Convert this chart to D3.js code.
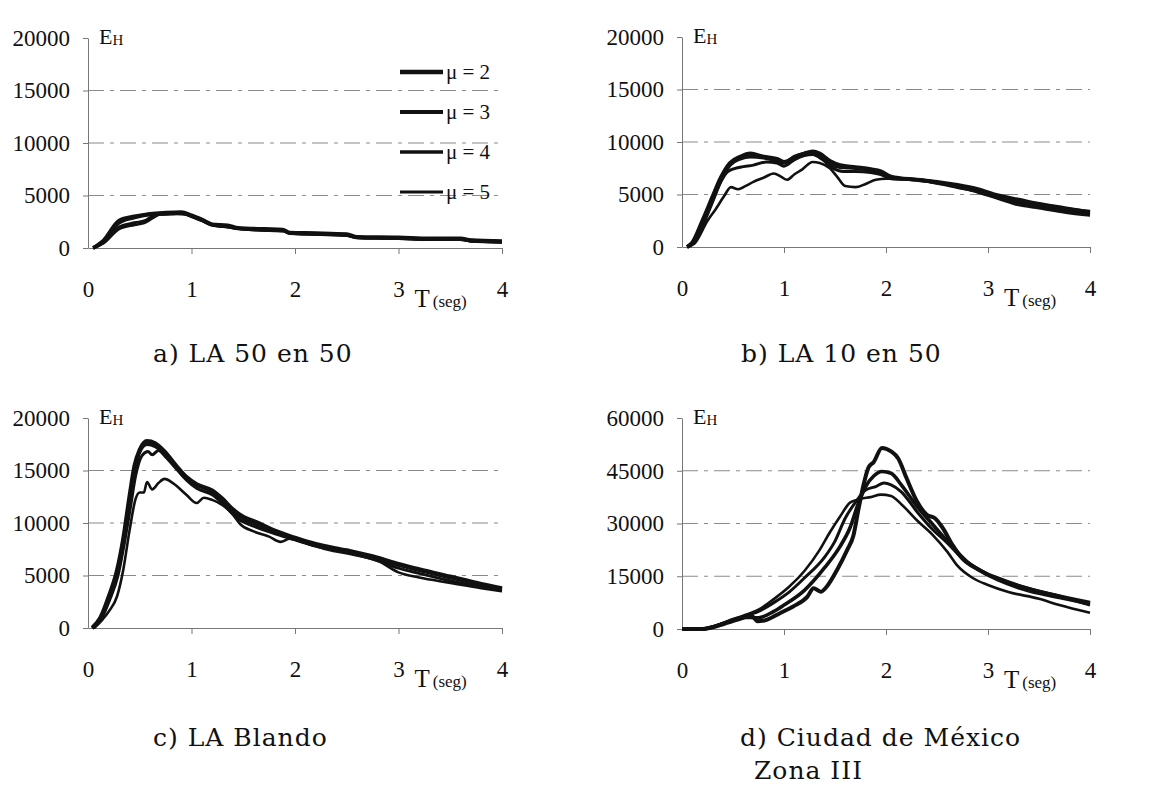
<!DOCTYPE html>
<html>
<head>
<meta charset="utf-8">
<script src="https://cdn.jsdelivr.net/npm/d3@7"></script>
<style>
  body { margin: 0; background: #fff; }
  svg { display: block; }
</style>
</head>
<body>
<svg id="chart"></svg>
<script>
// ---- data: [T (seg), E_H] ----
const periods = [0, 1, 2, 3, 4];
const legendLabels = ["μ = 2", "μ = 3", "μ = 4", "μ = 5"];
const yTicksSmall = [0, 5000, 10000, 15000, 20000];
const yTicksBig = [0, 15000, 30000, 45000, 60000];

const a_mu2 = [[0.05,0],[0.15,700],[0.3,2600],[0.45,3000],[0.6,3250],[0.75,3350],[0.9,3400],[1.0,3100],[1.1,2700],[1.2,2250],[1.35,2150],[1.45,1900],[1.7,1800],[1.88,1750],[1.95,1450],[2.2,1400],[2.5,1300],[2.6,1050],[3.0,1000],[3.3,900],[3.6,900],[3.7,750],[4.0,650]];
const a_mu3 = [[0.05,0],[0.15,600],[0.3,2400],[0.45,2900],[0.6,3200],[0.75,3300],[0.9,3350],[1.0,3050],[1.1,2650],[1.2,2200],[1.35,2050],[1.45,1850],[1.7,1750],[1.88,1700],[1.95,1400],[2.2,1350],[2.5,1250],[2.6,1000],[3.0,950],[3.3,850],[3.6,850],[3.7,700],[4.0,600]];
const a_mu4 = [[0.05,0],[0.15,500],[0.3,2000],[0.45,2400],[0.55,2600],[0.65,3150],[0.8,3250],[0.9,3300],[1.0,3000],[1.1,2600],[1.2,2200],[1.35,2000],[1.5,1800],[1.7,1700],[1.88,1650],[1.95,1400],[2.2,1300],[2.5,1200],[2.6,1000],[3.0,900],[3.3,800],[3.6,850],[3.7,650],[4.0,550]];
const a_mu5 = [[0.05,0],[0.15,450],[0.3,1800],[0.45,2200],[0.55,2400],[0.7,3200],[0.85,3250],[0.95,3200],[1.05,2850],[1.15,2450],[1.25,2100],[1.4,1950],[1.55,1750],[1.75,1650],[1.9,1600],[2.0,1350],[2.3,1300],[2.5,1200],[2.6,950],[3.0,900],[3.3,800],[3.6,800],[3.7,650],[4.0,550]];

const b_mu2 = [[0.05,0],[0.1,400],[0.2,2500],[0.3,4800],[0.38,6600],[0.47,8000],[0.57,8600],[0.67,8900],[0.8,8600],[0.93,8400],[1.0,8100],[1.1,8500],[1.2,8900],[1.28,9100],[1.35,8900],[1.45,8200],[1.55,7800],[1.7,7600],[1.85,7400],[1.95,7200],[2.05,6700],[2.3,6400],[2.5,6200],[2.7,5900],[2.9,5500],[3.1,4900],[3.3,4500],[3.5,4100],[3.75,3700],[4.0,3300]];
const b_mu3 = [[0.05,0],[0.1,350],[0.2,2300],[0.3,4500],[0.38,6300],[0.47,7800],[0.57,8400],[0.67,8600],[0.8,8500],[0.93,8200],[1.0,8000],[1.1,8600],[1.2,8900],[1.28,9000],[1.35,8700],[1.45,7900],[1.55,7600],[1.7,7500],[1.85,7300],[1.95,7000],[2.05,6600],[2.3,6400],[2.5,6100],[2.7,5700],[2.9,5300],[3.1,4700],[3.3,4200],[3.5,3900],[3.75,3500],[4.0,3100]];
const b_mu4 = [[0.05,0],[0.1,300],[0.2,2000],[0.3,4300],[0.38,6200],[0.45,7200],[0.57,7600],[0.7,7800],[0.83,8100],[0.93,8000],[1.0,7700],[1.1,8300],[1.2,8700],[1.28,8800],[1.38,8300],[1.48,7500],[1.58,7200],[1.7,7200],[1.85,7100],[1.95,6900],[2.05,6500],[2.3,6400],[2.5,6100],[2.7,5800],[2.9,5400],[3.1,4800],[3.3,4400],[3.5,4100],[3.75,3700],[4.0,3400]];
const b_mu5 = [[0.05,0],[0.12,300],[0.25,2500],[0.33,3600],[0.41,4800],[0.48,5700],[0.55,5500],[0.62,5800],[0.7,6200],[0.8,6600],[0.9,7000],[0.97,6700],[1.03,6400],[1.1,6900],[1.18,7400],[1.28,8100],[1.35,8000],[1.45,7500],[1.52,6700],[1.6,5800],[1.7,5700],[1.8,6000],[1.9,6400],[2.0,6500],[2.2,6500],[2.5,6200],[2.7,5700],[2.9,5200],[3.1,4600],[3.3,4000],[3.5,3700],[3.75,3300],[4.0,3000]];

const c_mu2 = [[0.04,0],[0.12,1000],[0.2,3000],[0.28,5500],[0.34,8500],[0.4,12500],[0.45,15500],[0.5,17000],[0.57,17800],[0.65,17600],[0.75,16700],[0.85,15500],[0.95,14400],[1.05,13700],[1.2,13100],[1.3,12300],[1.4,11300],[1.5,10600],[1.65,10000],[1.8,9300],[2.0,8600],[2.2,8000],[2.5,7400],[2.8,6700],[3.0,6100],[3.2,5600],[3.5,4900],[3.8,4200],[4.0,3800]];
const c_mu3 = [[0.04,0],[0.12,900],[0.2,2800],[0.28,5200],[0.34,8200],[0.4,12000],[0.45,15000],[0.5,16800],[0.57,17500],[0.65,17300],[0.75,16500],[0.85,15300],[0.95,14200],[1.05,13600],[1.2,13000],[1.3,12100],[1.4,11100],[1.5,10400],[1.65,9800],[1.8,9100],[2.0,8500],[2.2,7900],[2.5,7300],[2.8,6600],[3.0,6000],[3.2,5500],[3.5,4800],[3.8,4100],[4.0,3700]];
const c_mu4 = [[0.05,0],[0.13,900],[0.21,2700],[0.29,5000],[0.35,8000],[0.41,11500],[0.46,14500],[0.52,16400],[0.58,16800],[0.62,16500],[0.68,16900],[0.75,16300],[0.85,15200],[0.95,14100],[1.05,13300],[1.2,12700],[1.3,11900],[1.45,10400],[1.6,9700],[1.8,9000],[2.0,8400],[2.2,7800],[2.5,7200],[2.8,6400],[3.0,5700],[3.2,5200],[3.5,4500],[3.8,3900],[4.0,3600]];
const c_mu5 = [[0.06,0],[0.14,800],[0.21,1700],[0.28,3000],[0.34,5500],[0.4,9200],[0.46,12300],[0.5,12900],[0.54,12900],[0.57,13900],[0.62,13200],[0.68,13800],[0.74,14200],[0.82,13800],[0.95,12700],[1.05,11900],[1.12,12400],[1.2,12200],[1.3,11700],[1.4,10800],[1.47,9900],[1.6,9200],[1.75,8700],[1.86,8200],[1.95,8500],[2.1,8100],[2.3,7500],[2.6,6900],[2.8,6400],[3.0,5300],[3.2,4800],[3.5,4300],[3.8,3800],[4.0,3500]];

const d_mu2 = [[0,0],[0.2,0],[0.3,500],[0.45,1800],[0.6,3200],[0.68,3800],[0.74,2200],[0.83,2600],[0.96,4500],[1.09,6400],[1.23,9200],[1.29,11600],[1.36,10600],[1.42,12100],[1.52,16800],[1.62,22500],[1.68,26500],[1.73,34000],[1.78,41000],[1.83,46000],[1.88,47500],[1.96,51500],[2.05,50500],[2.12,48500],[2.2,43000],[2.3,36500],[2.4,32500],[2.48,31500],[2.55,29000],[2.65,24000],[2.75,20000],[2.9,17000],[3.1,14000],[3.3,11800],[3.5,10200],[3.7,9000],[4.0,7200]];
const d_mu3 = [[0,0],[0.2,0],[0.3,600],[0.45,2000],[0.6,3300],[0.75,3200],[0.9,5000],[1.0,6800],[1.2,11000],[1.4,17500],[1.55,23500],[1.65,29000],[1.72,35000],[1.8,40500],[1.88,43500],[1.96,44800],[2.05,44300],[2.15,41000],[2.3,35000],[2.45,30000],[2.6,25000],[2.8,19000],[3.0,15500],[3.3,12300],[3.6,10000],[4.0,7500]];
const d_mu4 = [[0,0],[0.2,0],[0.3,600],[0.45,2100],[0.6,3500],[0.75,5000],[0.9,7500],[1.05,10500],[1.2,14500],[1.4,20500],[1.5,25000],[1.6,31500],[1.7,36000],[1.8,39500],[1.9,40500],[1.98,41500],[2.05,41000],[2.15,39000],[2.3,33500],[2.45,28500],[2.6,24500],[2.75,20000],[2.9,17000],[3.1,14500],[3.4,11500],[3.7,9300],[4.0,6800]];
const d_mu5 = [[0,0],[0.2,0],[0.3,700],[0.45,2300],[0.6,3800],[0.75,5500],[0.9,8500],[1.05,12000],[1.2,16500],[1.35,22500],[1.45,27500],[1.55,32000],[1.65,36000],[1.75,37000],[1.85,37500],[1.95,38200],[2.05,37800],[2.15,35500],[2.3,31000],[2.45,27000],[2.6,22000],[2.7,18000],[2.85,14500],[3.0,12500],[3.2,10500],[3.5,8600],[3.7,6800],[4.0,4600]];

const lineWidths = [4, 3.6, 3, 2.6];

const W = 1169, H = 787;
const svg = d3.select("#chart").attr("width", W).attr("height", H);

const panels = [
  { series: [a_mu2, a_mu3, a_mu4, a_mu5], yTicks: yTicksSmall, left: 88, right: 502, bottom: 248, top: 38, legend: true },
  { series: [b_mu2, b_mu3, b_mu4, b_mu5], yTicks: yTicksSmall, left: 682, right: 1090, bottom: 247, top: 37 },
  { series: [c_mu2, c_mu3, c_mu4, c_mu5], yTicks: yTicksSmall, left: 88, right: 502, bottom: 628, top: 418 },
  { series: [d_mu2, d_mu3, d_mu4, d_mu5], yTicks: yTicksBig, left: 682, right: 1090, bottom: 629, top: 418 }
];

const serif = "'Liberation Serif', 'Times New Roman', serif";

panels.forEach(function(p) {
  const x = d3.scaleLinear().domain([0, 4]).range([p.left, p.right]);
  const y = d3.scaleLinear().domain([0, d3.max(p.yTicks)]).range([p.bottom, p.top]);
  const g = svg.append("g");

  // dashed grid lines
  g.selectAll("line.grid")
    .data(p.yTicks.filter(function(v) { return v > 0 && v < d3.max(p.yTicks); }))
    .enter().append("line")
    .attr("x1", p.left).attr("x2", p.right)
    .attr("y1", function(d) { return y(d); }).attr("y2", function(d) { return y(d); })
    .attr("stroke", "#8a8a8a").attr("stroke-width", 1)
    .attr("stroke-dasharray", "16,6,4,6");

  // y axis
  const yAxis = g.append("g")
    .attr("transform", `translate(${p.left},0)`)
    .call(d3.axisLeft(y).tickValues(p.yTicks).tickSize(5).tickSizeOuter(0).tickPadding(13).tickFormat(d3.format("d")));
  // x axis
  const xAxis = g.append("g")
    .attr("transform", `translate(0,${p.bottom})`)
    .call(d3.axisBottom(x).tickValues(periods).tickSize(6).tickSizeOuter(0).tickPadding(27).tickFormat(d3.format("d")));

  [yAxis, xAxis].forEach(function(ax) {
    ax.attr("font-family", null);
    ax.select(".domain").attr("stroke", "#777").attr("stroke-width", 1);
    ax.selectAll(".tick line").attr("stroke", "#777");
    ax.selectAll("text").style("font-family", serif).attr("font-size", 23).attr("fill", "#111");
  });
  xAxis.selectAll(".tick").filter(function(d) { return d === 0; }).select("line").remove();

  // axis titles
  const eh = g.append("text")
    .attr("x", p.left + 11).attr("y", p.top + 6)
    .style("font-family", serif).attr("font-size", 22).attr("fill", "#111");
  eh.append("tspan").text("E");
  eh.append("tspan").attr("font-size", 15).attr("dy", 1).text("H");

  const tl = g.append("text")
    .attr("x", x(3) + 16).attr("y", p.bottom + 59)
    .style("font-family", serif).attr("font-size", 25).attr("fill", "#111");
  tl.append("tspan").text("T");
  tl.append("tspan").attr("font-size", 17).attr("dx", 3).text("(seg)");

  // curves
  const line = d3.line()
    .x(function(d) { return x(d[0]); })
    .y(function(d) { return y(d[1]); })
    .curve(d3.curveMonotoneX);

  g.selectAll("path.curve")
    .data(p.series)
    .enter().append("path")
    .attr("class", "curve")
    .attr("d", line)
    .attr("fill", "none")
    .attr("stroke", "#111")
    .attr("stroke-width", function(d, i) { return lineWidths[i]; })
    .attr("stroke-linejoin", "round");

  if (p.legend) {
    const lg = g.append("g");
    legendLabels.forEach(function(lab, i) {
      const ly = 72 + i * 40;
      lg.append("line")
        .attr("x1", 400).attr("x2", 443).attr("y1", ly).attr("y2", ly)
        .attr("stroke", "#111").attr("stroke-width", lineWidths[i] + 0.4);
      lg.append("text")
        .attr("x", 446).attr("y", ly + 7)
        .style("font-family", serif).attr("font-size", 21).attr("fill", "#111")
        .text(lab);
    });
  }
});

// panel captions
const captionFont = "'DejaVu Serif', serif";
const captions = [
  { x: 153, y: 362, lines: ["a) LA 50 en 50"] },
  { x: 741, y: 362, lines: ["b) LA 10 en 50"] },
  { x: 153, y: 746, lines: ["c) LA Blando"] },
  { x: 740, y: 746, lines: ["d) Ciudad de México", "Zona III"] }
];
captions.forEach(function(c) {
  c.lines.forEach(function(t, i) {
    svg.append("text")
      .attr("x", c.x + (i ? 14 : 0)).attr("y", c.y + i * 33)
      .style("font-family", captionFont).attr("font-size", 25)
      .attr("letter-spacing", 1).attr("fill", "#111")
      .text(t);
  });
});
</script>
</body>
</html>
